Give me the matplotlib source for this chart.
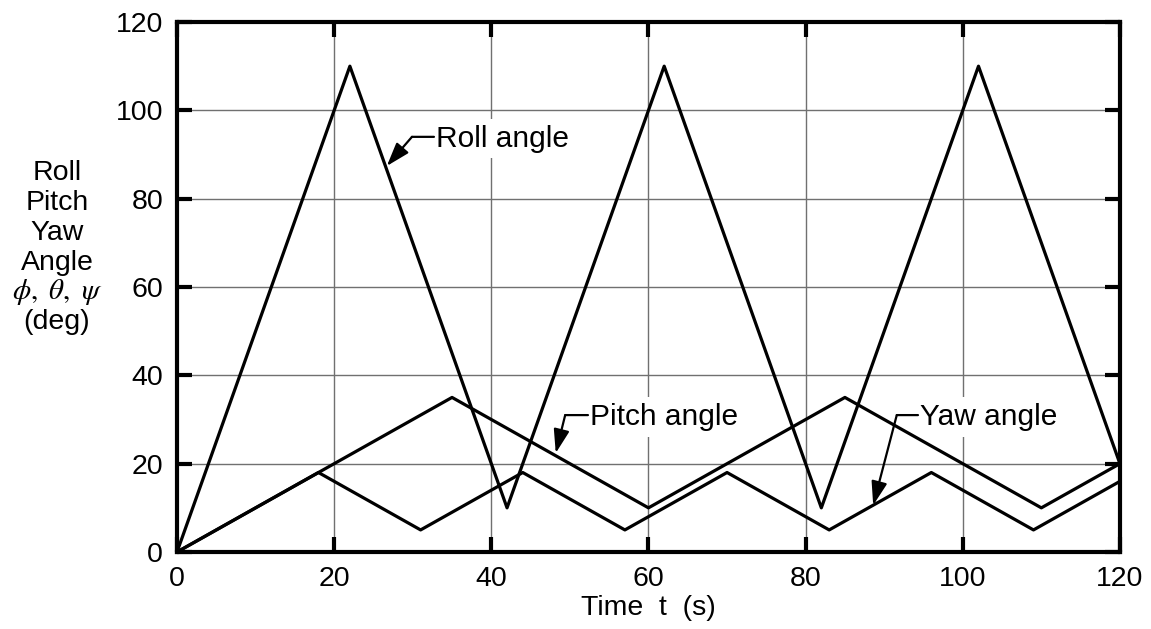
import matplotlib.pyplot as plt

plt.rcParams['font.family'] = ['Liberation Sans', 'DejaVu Sans']
plt.rcParams['mathtext.fontset'] = 'stix'

roll_t = [0, 22, 42, 62, 82, 102, 120]
roll = [0, 110, 10, 110, 10, 110, 20]

pitch_t = [0, 35, 60, 85, 110, 120]
pitch = [0, 35, 10, 35, 10, 20]

yaw_t = [0, 18, 31, 44, 57, 70, 83, 96, 109, 120]
yaw = [0, 18, 5, 18, 5, 18, 5, 18, 5, 16]

ticks = [0, 20, 40, 60, 80, 100, 120]
ylabel_lines = ["Roll", "Pitch", "Yaw", "Angle", None, "(deg)"]

fig = plt.figure(figsize=(11.51, 6.29), dpi=100)
ax = fig.add_axes([0.1538, 0.1224, 0.8192, 0.8426])

ax.plot(roll_t, roll, color='black', lw=2.3, zorder=3)
ax.plot(pitch_t, pitch, color='black', lw=2.3, zorder=3)
ax.plot(yaw_t, yaw, color='black', lw=2.3, zorder=3)

ax.set_xlim(0, 120)
ax.set_ylim(0, 120)
ax.set_xticks(ticks)
ax.set_yticks(ticks)
ax.grid(True, color='#707070', lw=1.0)
ax.set_axisbelow(True)
ax.tick_params(direction='in', length=11, width=3, labelsize=20.5,
               top=True, right=True, pad=10)
for s in ax.spines.values():
    s.set_linewidth(3)

ax.set_xlabel("Time  t  (s)", fontsize=20.5, labelpad=2)

box = dict(facecolor='white', edgecolor='none', pad=4)
arrow = dict(arrowstyle='-|>,head_length=0.6,head_width=0.2', color='black',
             lw=1.6, mutation_scale=24, shrinkA=0, shrinkB=0)
stub = dict(arrowstyle='-', color='black', lw=1.6, shrinkA=0, shrinkB=0)

def label(text, tip, bend, tx):
    ax.text(tx + 0.2, bend[1] - 0.4, text, fontsize=21.5, va='center',
            ha='left', bbox=box, zorder=2)
    ax.annotate("", xy=bend, xytext=(tx, bend[1]), arrowprops=stub, zorder=2.5)
    ax.annotate("", xy=tip, xytext=bend, arrowprops=arrow, zorder=2.5)

label("Roll angle", (26.7, 87.4), (29.9, 94.0), 32.7)
label("Pitch angle", (48.2, 22.4), (49.4, 31.0), 52.3)
label("Yaw angle", (88.6, 10.6), (91.6, 31.0), 94.3)

ys = [173, 203, 233, 263, 292, 322]
for line, y in zip(ylabel_lines, ys):
    if line is None:
        fig.text(57 / 1151, 1 - y / 629, r"$\it{\phi},\ \it{\theta},\ \it{\psi}$",
                 fontsize=21, ha='center', va='center')
    else:
        fig.text(57 / 1151, 1 - y / 629, line, fontsize=20.5,
                 ha='center', va='center')

fig.savefig("out.png", dpi=100)
